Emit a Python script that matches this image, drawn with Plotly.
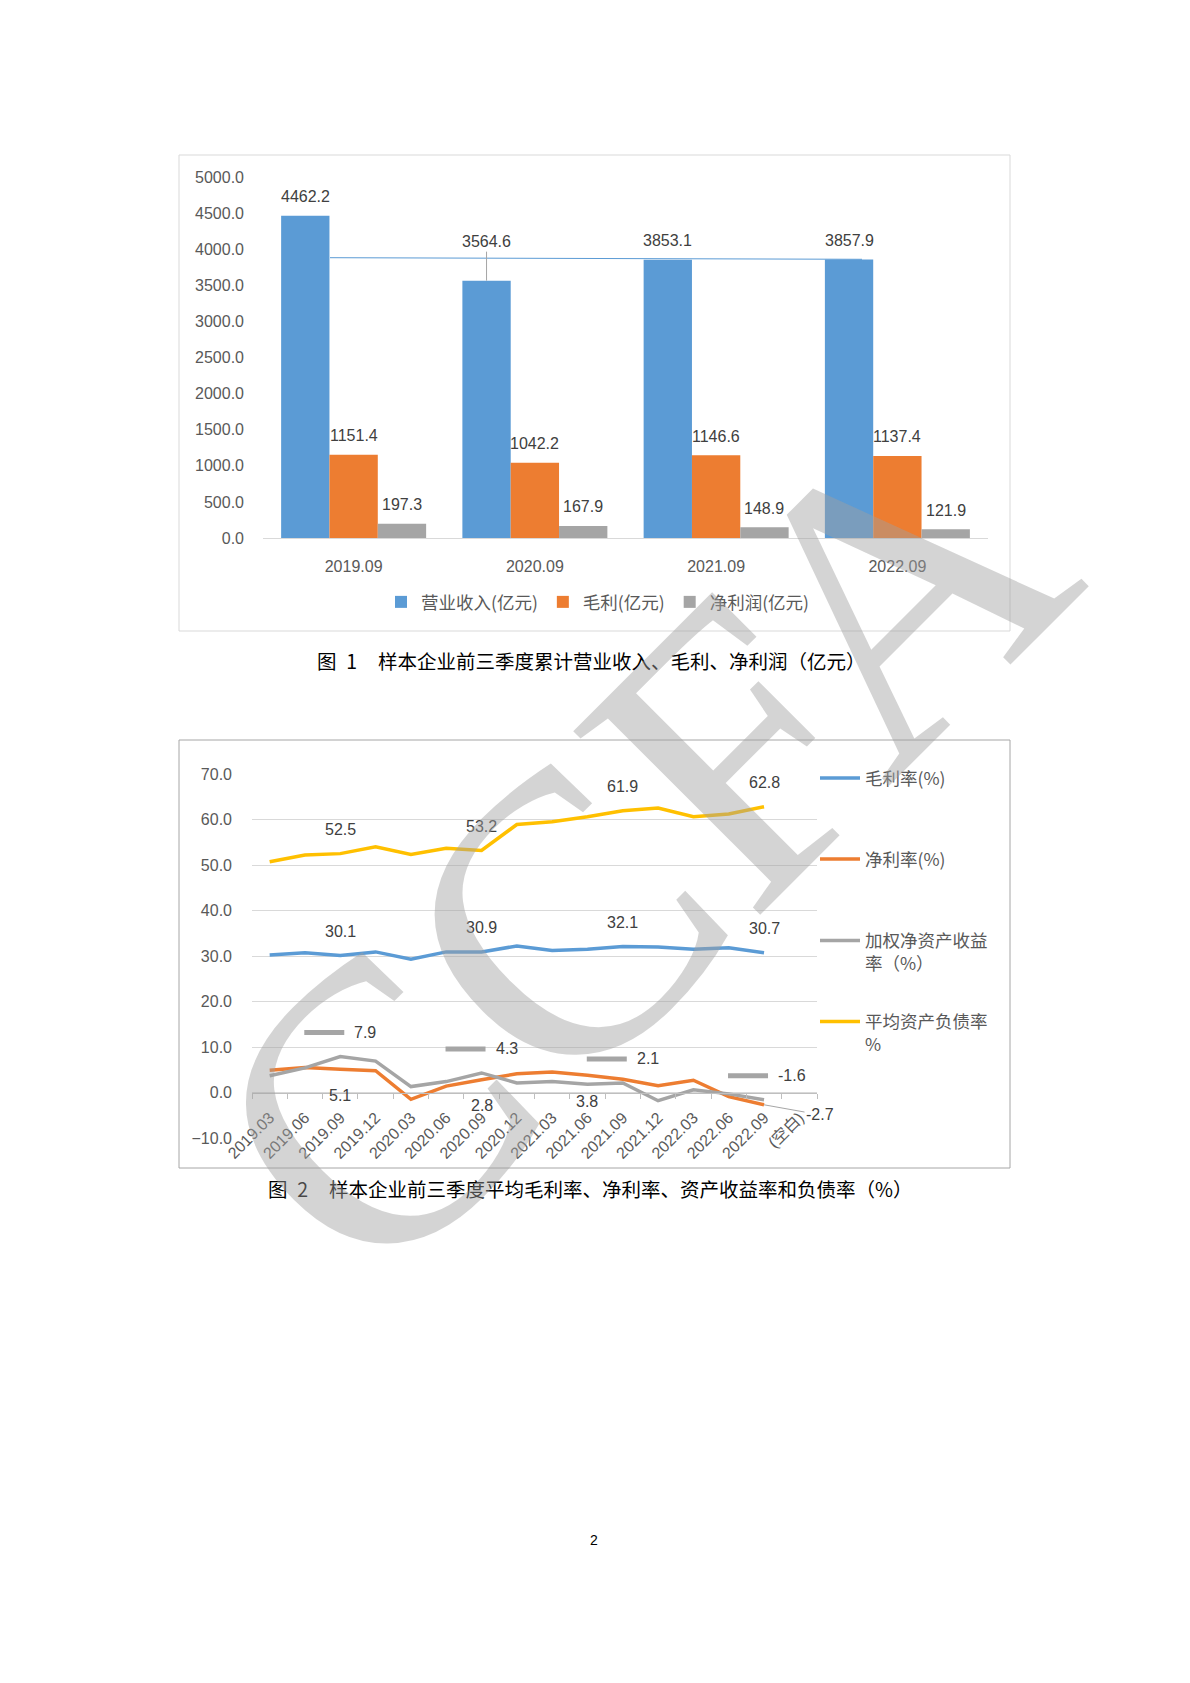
import plotly.graph_objects as go

PAGE_W, PAGE_H = 1190, 1683
OFF = 8  # default page margin of the html body
W, H = PAGE_W - 2 * OFF, PAGE_H - 2 * OFF


def px(x):
    return (x - OFF) / W


def py(y):
    return 1 - (y - OFF) / H


# ---------------- Chart 1 data ----------------
years = ["2019.09", "2020.09", "2021.09", "2022.09"]
revenue = [4462.2, 3564.6, 3853.1, 3857.9]
gross_profit = [1151.4, 1042.2, 1146.6, 1137.4]
net_profit = [197.3, 167.9, 148.9, 121.9]
bar_names = ["营业收入(亿元)", "毛利(亿元)", "净利润(亿元)"]

# ---------------- Chart 2 data ----------------
quarters = ["2019.03", "2019.06", "2019.09", "2019.12", "2020.03", "2020.06",
            "2020.09", "2020.12", "2021.03", "2021.06", "2021.09", "2021.12",
            "2022.03", "2022.06", "2022.09"]
x2_categories = quarters + ["(空白)"]
gross_margin = [30.2, 30.7, 30.1, 30.9, 29.3, 30.9, 30.9, 32.2, 31.2, 31.5, 32.1, 32.0, 31.5, 31.8, 30.7]
net_margin = [4.9, 5.5, 5.1, 4.8, -1.5, 1.4, 2.8, 4.1, 4.5, 3.8, 2.9, 1.5, 2.7, -0.9, -2.7]
roe = [3.7, 5.4, 7.9, 6.9, 1.3, 2.4, 4.3, 2.1, 2.4, 1.8, 2.1, -1.8, 0.6, -0.3, -1.6]
debt_ratio = [50.7, 52.2, 52.5, 54.0, 52.3, 53.7, 53.2, 58.9, 59.5, 60.6, 61.9, 62.5, 60.6, 61.2, 62.8]
line_names = ["毛利率(%)", "净利率(%)", "加权净资产收益<br>率（%）", "平均资产负债率<br>%"]
gm_label_idx = [2, 6, 10, 14]
nm_label_idx = [2, 6, 9]
nm_side_label_idx = 14
roe_label_idx = [2, 6, 10, 14]
debt_label_idx = [2, 6, 10, 14]

captions = ["图\u20021", "样本企业前三季度累计营业收入、毛利、净利润（亿元）",
            "图\u20022", "样本企业前三季度平均毛利率、净利率、资产收益率和负债率（%）"]
page_number = "2"
watermark = "CCFA"

BLUE, ORANGE, GRAY, YELLOW = "#5B9BD5", "#ED7D31", "#A5A5A5", "#FFC000"
NUM = "Liberation Sans, Noto Sans CJK SC, sans-serif"
CJK = "Noto Sans CJK SC, Liberation Sans, sans-serif"
axis_font = dict(family=NUM, size=16, color="#595959")
label_font = dict(family=NUM, size=16, color="#404040")
legend_font = dict(family=CJK, size=17.5, color="#595959")

fig = go.Figure()

# ---------------- Chart 1 bars ----------------
for name, vals, col in zip(bar_names, [revenue, gross_profit, net_profit], [BLUE, ORANGE, GRAY]):
    fig.add_trace(go.Bar(x=years, y=vals, name=name, marker=dict(color=col, line=dict(width=0)),
                         xaxis="x", yaxis="y", legend="legend"))

# ---------------- Chart 2 lines ----------------
series2 = [gross_margin, net_margin, roe, debt_ratio]
colors2 = [BLUE, ORANGE, GRAY, YELLOW]
legends2 = ["legend2", "legend3", "legend4", "legend5"]
for name, vals, col, lg in zip(line_names, series2, colors2, legends2):
    fig.add_trace(go.Scatter(x=quarters, y=vals, name=name, mode="lines",
                             line=dict(color=col, width=3.5), xaxis="x2", yaxis="y2", legend=lg))
# keep the empty category slot on the axis
fig.add_trace(go.Scatter(x=x2_categories, y=[None] * len(x2_categories), mode="lines",
                         showlegend=False, hoverinfo="skip", xaxis="x2", yaxis="y2"))

annotations = []
shapes = []

# chart 1 data labels
bw = 0.8 / 3
for j, vals in enumerate([revenue, gross_profit, net_profit]):
    for i, v in enumerate(vals):
        a = dict(x=i + (j - 1) * bw, y=v, xref="x", yref="y", text=f"{v:.1f}",
                 font=label_font, xanchor="center", yanchor="middle", showarrow=False, yshift=19)
        if j == 0 and i == 1:
            a.update(showarrow=True, arrowhead=0, arrowwidth=1, arrowcolor="#A6A6A6",
                     ax=0, ay=-39, yshift=0, standoff=0)
        annotations.append(a)

# chart 2 data labels
for vals, idxs in [(debt_ratio, debt_label_idx), (gross_margin, gm_label_idx)]:
    for i in idxs:
        annotations.append(dict(x=i, y=vals[i], xref="x2", yref="y2", text=f"{vals[i]:.1f}",
                                font=label_font, showarrow=False, yshift=24))
for i in nm_label_idx:
    annotations.append(dict(x=i, y=net_margin[i], xref="x2", yref="y2",
                            text=f"{net_margin[i]:.1f}", font=label_font, showarrow=False, yshift=-26))
i = nm_side_label_idx
annotations.append(dict(x=i, y=net_margin[i], xref="x2", yref="y2", text=f"{net_margin[i]:.1f}",
                        font=label_font, showarrow=True, arrowhead=0, arrowwidth=1,
                        arrowcolor="#A6A6A6", ax=56, ay=10, standoff=0))
for i in roe_label_idx:
    annotations.append(dict(x=i, y=roe[i], xref="x2", yref="y2", text=f"{roe[i]:.1f}",
                            font=label_font, showarrow=False, xanchor="left", xshift=12, yshift=24))
    shapes.append(dict(type="line", xref="x2", yref="y2", xsizemode="pixel", ysizemode="pixel",
                       xanchor=i, yanchor=roe[i], x0=-36, x1=4, y0=24, y1=24,
                       line=dict(color=GRAY, width=5)))

# captions & page number
cap_font = dict(family=CJK, size=19.5, color="#000000")
annotations += [
    dict(x=px(315), y=py(660), xref="paper", yref="paper", text=captions[0], xanchor="left",
         yanchor="middle", showarrow=False, font=cap_font),
    dict(x=px(376), y=py(660), xref="paper", yref="paper", text=captions[1], xanchor="left",
         yanchor="middle", showarrow=False, font=cap_font),
    dict(x=px(266), y=py(1188), xref="paper", yref="paper", text=captions[2], xanchor="left",
         yanchor="middle", showarrow=False, font=cap_font),
    dict(x=px(327), y=py(1188), xref="paper", yref="paper", text=captions[3], xanchor="left",
         yanchor="middle", showarrow=False, font=cap_font),
    dict(x=px(594), y=py(1550), xref="paper", yref="paper", text=page_number, showarrow=False,
         font=dict(family=NUM, size=14, color="#000000")),
]
# watermark
annotations.append(dict(x=px(636), y=py(848), xref="paper", yref="paper", text=watermark,
                        textangle=-45, showarrow=False,
                        font=dict(family="Liberation Serif, serif", size=400, color="rgba(160,160,160,0.45)")))

# chart frames and leader line
shapes += [
    dict(type="rect", xref="paper", yref="paper", x0=px(179), x1=px(1010), y0=py(631), y1=py(155),
         line=dict(color="#D9D9D9", width=1), layer="below"),
    dict(type="rect", xref="paper", yref="paper", x0=px(179), x1=px(1010), y0=py(1168), y1=py(740),
         line=dict(color="#A6A6A6", width=1), layer="below"),
    dict(type="line", xref="paper", yref="paper", x0=px(330), x1=px(862), y0=py(257.7), y1=py(259.3),
         line=dict(color=BLUE, width=1)),
]

leg_common = dict(xanchor="left", yanchor="middle", itemwidth=40, valign="top", font=legend_font,
                  bgcolor="rgba(0,0,0,0)", borderwidth=0)

fig.update_layout(
    width=W, height=H, margin=dict(l=0, r=0, t=0, b=0, pad=0, autoexpand=False),
    paper_bgcolor="white", plot_bgcolor="white",
    barmode="group", bargap=0.2, bargroupgap=0,
    xaxis=dict(domain=[px(263), px(988)], anchor="y", type="category", categoryorder="array",
               categoryarray=years, showline=True, linecolor="#D9D9D9", linewidth=1, ticks="",
               tickfont=axis_font, ticklabelstandoff=14, showgrid=False, zeroline=False, automargin=False),
    yaxis=dict(domain=[py(538), py(177)], anchor="x", range=[0, 5000], dtick=500, tickformat=".1f",
               showgrid=False, zeroline=False, showline=False, tickfont=axis_font, ticklabelstandoff=18,
               automargin=False),
    xaxis2=dict(domain=[px(252), px(817)], anchor="free", position=py(1093), type="category",
                categoryorder="array", categoryarray=x2_categories, range=[-0.5, len(x2_categories) - 0.5],
                showline=True, linecolor="#BFBFBF", linewidth=1, ticks="outside", ticklen=5,
                tickcolor="#BFBFBF", tickson="boundaries", tickangle=-45, tickfont=axis_font,
                ticklabelstandoff=8, showgrid=False, zeroline=False, automargin=False),
    yaxis2=dict(domain=[py(1138), py(774)], anchor="x2", range=[-10, 70], dtick=10, tickformat=".1f",
                showgrid=True, gridcolor="#D9D9D9", gridwidth=1, zeroline=False, showline=False,
                tickfont=axis_font, ticklabelstandoff=19, automargin=False),
    legend=dict(orientation="h", x=px(598), y=py(602), xanchor="center", yanchor="middle",
                font=legend_font, bgcolor="rgba(0,0,0,0)"),
    legend2=dict(x=px(815), y=py(778), **leg_common),
    legend3=dict(x=px(815), y=py(859), **leg_common),
    legend4=dict(x=px(815), y=py(952), **leg_common),
    legend5=dict(x=px(815), y=py(1033), **leg_common),
    annotations=annotations,
    shapes=shapes,
    showlegend=True,
)

fig.write_html("out.html")
